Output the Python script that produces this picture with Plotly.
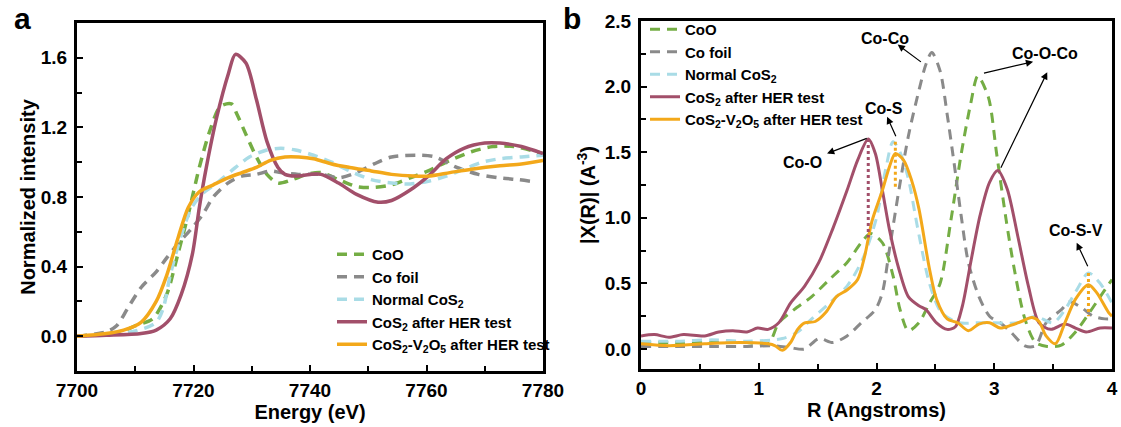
import plotly.graph_objects as go

FONT = "Liberation Sans"

# ---------------- Panel a data (XANES) ----------------
a_coo_x = [7700, 7705, 7708, 7710, 7713, 7715.4, 7717.3, 7719.1, 7721, 7722.8, 7724.6, 7726.5, 7727.4, 7729,
           7730.8, 7732.6, 7734.5, 7737, 7739.4, 7741.9, 7744.9, 7748, 7751, 7754, 7757.2, 7760.3, 7764,
           7767.7, 7771.4, 7775, 7780]
a_coo_y = [0.0, 0.015, 0.03, 0.06, 0.10, 0.24, 0.47, 0.70, 0.97, 1.18, 1.32, 1.335, 1.28, 1.16,
           1.03, 0.93, 0.88, 0.90, 0.93, 0.94, 0.90, 0.86, 0.855, 0.87, 0.91, 0.95, 1.01,
           1.06, 1.09, 1.09, 1.05]

a_foil_x = [7700, 7705, 7706.8, 7708.7, 7711, 7713.6, 7715.4, 7717.3, 7719.7, 7721.6, 7723.4, 7725.9, 7728.3,
            7730.8, 7733.2, 7735, 7738, 7742, 7745, 7748, 7751, 7754, 7759, 7761.5, 7765.2, 7768.9, 7772.6,
            7775.7, 7778]
a_foil_y = [0.0, 0.025, 0.06, 0.16, 0.28, 0.37, 0.45, 0.53, 0.62, 0.70, 0.80, 0.88, 0.92,
            0.93, 0.95, 0.94, 0.93, 0.93, 0.91, 0.94, 0.99, 1.03, 1.04, 1.03, 0.97, 0.93, 0.91,
            0.90, 0.89]

a_norm_x = [7700, 7710, 7713.6, 7714.8, 7716, 7717.9, 7719.7, 7721.6, 7724, 7726.5, 7729.6, 7732.6, 7735,
            7737.5, 7740.6, 7743.7, 7746.8, 7750.5, 7754, 7757.2, 7760.3, 7763.4, 7766.4, 7769.5, 7772.6,
            7776.3, 7780]
a_norm_y = [0.0, 0.03, 0.08, 0.16, 0.35, 0.58, 0.74, 0.82, 0.88, 0.95, 1.03, 1.07, 1.08,
            1.07, 1.04, 1.00, 0.95, 0.90, 0.88, 0.875, 0.89, 0.92, 0.96, 1.0, 1.02,
            1.03, 1.04]

a_her_x = [7700, 7705, 7711, 7713.6, 7716, 7717.9, 7719.8, 7721, 7722.2, 7724, 7726, 7727.2, 7729, 7730.8,
           7732.6, 7734.5, 7735.7, 7737.5, 7740, 7741.9, 7744.9, 7748, 7751.7, 7754, 7757.2, 7760.3, 7763.4,
           7766.4, 7770, 7772.6, 7776.3, 7780]
a_her_y = [0.0, 0.005, 0.015, 0.035, 0.10, 0.24, 0.47, 0.74, 0.97, 1.26, 1.51, 1.62, 1.57, 1.36,
           1.12, 0.97, 0.93, 0.92, 0.93, 0.93, 0.88, 0.815, 0.77, 0.78, 0.84, 0.92, 1.02,
           1.08, 1.11, 1.11, 1.09, 1.05]

a_vo_x = [7700, 7705, 7708, 7711, 7713.6, 7715.4, 7717.3, 7719.1, 7721, 7723.4, 7725.9, 7728.3, 7730.8,
          7733.2, 7735.7, 7738.1, 7740.6, 7743.7, 7746.8, 7750.5, 7754, 7757.8, 7760.3, 7764, 7767.7,
          7772.6, 7776.3, 7780]
a_vo_y = [0.0, 0.015, 0.035, 0.08, 0.2, 0.35, 0.56, 0.74, 0.83, 0.87, 0.91, 0.94, 0.97,
          1.01, 1.03, 1.03, 1.02, 0.99, 0.97, 0.95, 0.93, 0.92, 0.92, 0.94, 0.96,
          0.98, 0.99, 1.01]

# ---------------- Panel b data (EXAFS FT) ----------------
b_coo_x = [0, 0.3, 0.6, 0.9, 1.08, 1.17, 1.3, 1.45, 1.6, 1.75, 1.87, 1.95, 2.05, 2.14, 2.2, 2.27, 2.36, 2.45,
           2.54, 2.63, 2.72, 2.8, 2.86, 2.95, 3.02, 3.1, 3.17, 3.26, 3.35, 3.45, 3.57, 3.69, 3.81, 3.9, 4.0]
b_coo_y = [0.05, 0.05, 0.05, 0.05, 0.04, 0.20, 0.30, 0.40, 0.53, 0.66, 0.81, 0.88, 0.81, 0.56, 0.30, 0.14,
           0.20, 0.35, 0.50, 0.97, 1.49, 1.87, 2.08, 1.92, 1.49, 0.99, 0.61, 0.23, 0.05, 0.02, 0.03, 0.13,
           0.28, 0.40, 0.53]

b_foil_x = [0, 0.3, 0.6, 0.9, 1.14, 1.27, 1.39, 1.51, 1.63, 1.75, 1.87, 1.99, 2.05, 2.11, 2.19, 2.27, 2.36,
            2.42, 2.47, 2.54, 2.6, 2.66, 2.72, 2.78, 2.87, 2.96, 3.05, 3.14, 3.26, 3.35, 3.44, 3.57, 3.64,
            3.75, 3.84, 3.94, 4.0]
b_foil_y = [0.02, 0.02, 0.02, 0.02, 0.025, 0.01, 0.0, 0.08, 0.05, 0.10, 0.20, 0.30, 0.43, 0.76, 1.21, 1.62,
            1.97, 2.17, 2.26, 2.12, 1.79, 1.41, 1.01, 0.66, 0.40, 0.25, 0.20, 0.13, 0.025, 0.025, 0.20,
            0.30, 0.36, 0.31, 0.25, 0.23, 0.23]

b_norm_x = [0, 0.3, 0.6, 0.9, 1.2, 1.33, 1.45, 1.6, 1.75, 1.88, 2.0, 2.08, 2.14, 2.2, 2.27, 2.35, 2.45, 2.55,
            2.7, 2.85, 3.0, 3.2, 3.35, 3.5, 3.6, 3.7, 3.8, 3.9, 4.0]
b_norm_y = [0.06, 0.06, 0.07, 0.06, 0.08, 0.13, 0.23, 0.35, 0.48, 0.68, 1.0, 1.38, 1.58, 1.5, 1.3, 0.92,
            0.5, 0.28, 0.2, 0.2, 0.2, 0.2, 0.25, 0.2, 0.3, 0.45, 0.58, 0.5, 0.35]

b_her_x = [0, 0.115, 0.236, 0.36, 0.54, 0.66, 0.78, 0.9, 0.99, 1.08, 1.17, 1.27, 1.39, 1.51, 1.63, 1.75,
           1.84, 1.93, 1.99, 2.05, 2.11, 2.19, 2.27, 2.36, 2.42, 2.51, 2.6, 2.67, 2.73, 2.8, 2.88, 2.96,
           3.03, 3.11, 3.2, 3.29, 3.38, 3.48, 3.6, 3.69, 3.78, 3.9, 4.0]
b_her_y = [0.10, 0.11, 0.09, 0.11, 0.10, 0.13, 0.14, 0.13, 0.16, 0.15, 0.20, 0.35, 0.48, 0.66, 0.92, 1.21,
           1.44, 1.60, 1.49, 1.21, 0.91, 0.61, 0.40, 0.33, 0.30, 0.20, 0.15, 0.17, 0.33, 0.66, 1.02, 1.27,
           1.36, 1.22, 0.86, 0.48, 0.20, 0.15, 0.19, 0.16, 0.13, 0.16, 0.16]

b_vo_x = [0, 0.24, 0.54, 0.84, 1.08, 1.14, 1.2, 1.27, 1.33, 1.39, 1.48, 1.57, 1.66, 1.75, 1.84, 1.9, 1.96,
          2.05, 2.11, 2.16, 2.23, 2.3, 2.36, 2.45, 2.51, 2.6, 2.69, 2.78, 2.87, 2.96, 3.05, 3.14, 3.23,
          3.32, 3.38, 3.44, 3.52, 3.6, 3.69, 3.8, 3.87, 3.97, 4.0]
b_vo_y = [0.04, 0.025, 0.04, 0.05, 0.04, 0.025, -0.01, 0.05, 0.15, 0.20, 0.21, 0.28, 0.40, 0.45, 0.53, 0.71,
          0.97, 1.21, 1.39, 1.49, 1.44, 1.28, 1.07, 0.61, 0.38, 0.23, 0.20, 0.14, 0.19, 0.20, 0.16, 0.18,
          0.21, 0.24, 0.21, 0.10, 0.04, 0.20, 0.38, 0.49, 0.43, 0.28, 0.25]

# dotted guide lines at peak positions (panel b)
guide_her_x = [1.93, 1.93]
guide_her_y = [1.60, 0.85]
guide_vo1_x = [2.16, 2.16]
guide_vo1_y = [1.58, 1.22]
guide_vo2_x = [3.80, 3.80]
guide_vo2_y = [0.58, 0.25]

names = ["CoO", "Co foil", "Normal CoS<sub>2</sub>", "CoS<sub>2</sub> after HER test",
         "CoS<sub>2</sub>-V<sub>2</sub>O<sub>5</sub> after HER test"]
colors = ["#74ad44", "#8a8a8a", "#a9dce6", "#a24f6a", "#f3a81a"]
dashes = ["10px,7px", "10px,7px", "10px,7px", "solid", "solid"]

fig = go.Figure()

a_sets = [(a_coo_x, a_coo_y), (a_foil_x, a_foil_y), (a_norm_x, a_norm_y), (a_her_x, a_her_y), (a_vo_x, a_vo_y)]
b_sets = [(b_coo_x, b_coo_y), (b_foil_x, b_foil_y), (b_norm_x, b_norm_y), (b_her_x, b_her_y), (b_vo_x, b_vo_y)]

for i, (xs, ys) in enumerate(a_sets):
    fig.add_trace(go.Scatter(x=xs, y=ys, mode="lines", name=names[i], legend="legend",
                             line=dict(color=colors[i], width=3.5, dash=dashes[i], shape="spline", smoothing=0.8),
                             xaxis="x", yaxis="y"))
for i, (xs, ys) in enumerate(b_sets):
    fig.add_trace(go.Scatter(x=xs, y=ys, mode="lines", name=names[i], legend="legend2",
                             line=dict(color=colors[i], width=3, dash=dashes[i], shape="spline", smoothing=0.8),
                             xaxis="x2", yaxis="y2"))

for gx, gy, c in [(guide_her_x, guide_her_y, colors[3]), (guide_vo1_x, guide_vo1_y, colors[4]),
                  (guide_vo2_x, guide_vo2_y, colors[4])]:
    fig.add_trace(go.Scatter(x=gx, y=gy, mode="lines", showlegend=False,
                             line=dict(color=c, width=3, dash="dot"), xaxis="x2", yaxis="y2"))

tickfont = dict(family=FONT, size=19, color="black", weight="bold")
titlefont = dict(family=FONT, size=20, color="black", weight="bold")

def axis_style(**kw):
    d = dict(showline=True, linewidth=3, linecolor="black", mirror=True, showgrid=False, zeroline=False,
             ticks="inside", ticklen=6, tickwidth=2, tickcolor="black", tickfont=tickfont, automargin=False)
    d.update(kw)
    return d

W, H = 1121, 427
L, R, T, B = 77, 1112, 21, 371          # pixel bounds of the plotting region
PW, PH = R - L, B - T

def px(x):
    return (x - L) / PW

def py(y):
    return (B - y) / PH

minor_style = dict(ticks="inside", ticklen=5, tickwidth=2, tickcolor="black", showgrid=False)

fig.update_layout(
    template="plotly_white",
    width=W, height=H, margin=dict(l=L, r=W - R, t=T, b=H - B, autoexpand=False),
    paper_bgcolor="white", plot_bgcolor="white",
    xaxis=axis_style(domain=[0, px(543)], range=[7700, 7780], tick0=7700, dtick=20,
                     minor=dict(dtick=10, **minor_style), ticklabelstandoff=0,
                     title=dict(text="Energy (eV)", font=titlefont, standoff=4), anchor="y"),
    yaxis=axis_style(domain=[py(371), py(23)], range=[-0.2, 1.8], tick0=0, dtick=0.4, tickformat=".1f",
                     minor=dict(dtick=0.2, **minor_style), ticklabelstandoff=3,
                     title=dict(text="Normalized intensity", font=titlefont, standoff=0), anchor="x"),
    xaxis2=axis_style(domain=[px(641), 1], range=[0, 4], tick0=0, dtick=1,
                      minor=dict(dtick=0.5, **minor_style), ticklabelstandoff=0,
                      title=dict(text="R (Angstroms)", font=titlefont, standoff=4), anchor="y2"),
    yaxis2=axis_style(domain=[py(369), 1], range=[-0.152, 2.5], tick0=0, dtick=0.5, tickformat=".1f",
                      minor=dict(dtick=0.25, **minor_style), ticklabelstandoff=3,
                      title=dict(text="|X(R)| (A<sup>-3</sup>)", font=titlefont, standoff=4), anchor="x2"),
    legend=dict(x=px(332), y=py(238), xanchor="left", yanchor="top", bgcolor="rgba(0,0,0,0)",
                font=dict(family=FONT, size=15, color="black", weight="bold"), tracegroupgap=0),
    legend2=dict(x=px(645), y=py(13), xanchor="left", yanchor="top", bgcolor="rgba(0,0,0,0)",
                 font=dict(family=FONT, size=15, color="black", weight="bold"), tracegroupgap=0),
    showlegend=True,
)

annfont = dict(family=FONT, size=16, color="black", weight="bold")
anns = []
# panel letters
anns.append(dict(text="a", x=px(22), y=py(19), xref="paper", yref="paper", showarrow=False,
                 xanchor="center", yanchor="middle",
                 font=dict(family=FONT, size=30, color="black", weight="bold")))
anns.append(dict(text="b", x=px(572), y=py(19), xref="paper", yref="paper", showarrow=False,
                 xanchor="center", yanchor="middle",
                 font=dict(family=FONT, size=30, color="black", weight="bold")))
# labels in panel b
for txt, tx, ty in [("Co-Co", 2.07, 2.37), ("Co-O-Co", 3.43, 2.25), ("Co-S", 2.06, 1.83),
                    ("Co-O", 1.37, 1.42), ("Co-S-V", 3.69, 0.9)]:
    anns.append(dict(text=txt, x=tx, y=ty, xref="x2", yref="y2", showarrow=False, font=annfont,
                     xanchor="center", yanchor="middle"))
# arrows: (head x, head y, tail x, tail y)
for hx, hy, tx_, ty_ in [(2.18, 2.32, 2.39, 2.18), (3.33, 2.19, 2.90, 2.10), (3.45, 2.11, 3.05, 1.37),
                         (2.09, 1.77, 2.17, 1.61), (1.58, 1.49, 1.93, 1.61), (3.70, 0.81, 3.80, 0.62)]:
    anns.append(dict(text="", x=hx, y=hy, ax=tx_, ay=ty_, xref="x2", yref="y2", axref="x2", ayref="y2",
                     showarrow=True, arrowhead=2, arrowsize=1.2, arrowwidth=1.2, arrowcolor="black",
                     standoff=0, startstandoff=0))
fig.update_layout(annotations=anns)

fig.write_html("out.html")
